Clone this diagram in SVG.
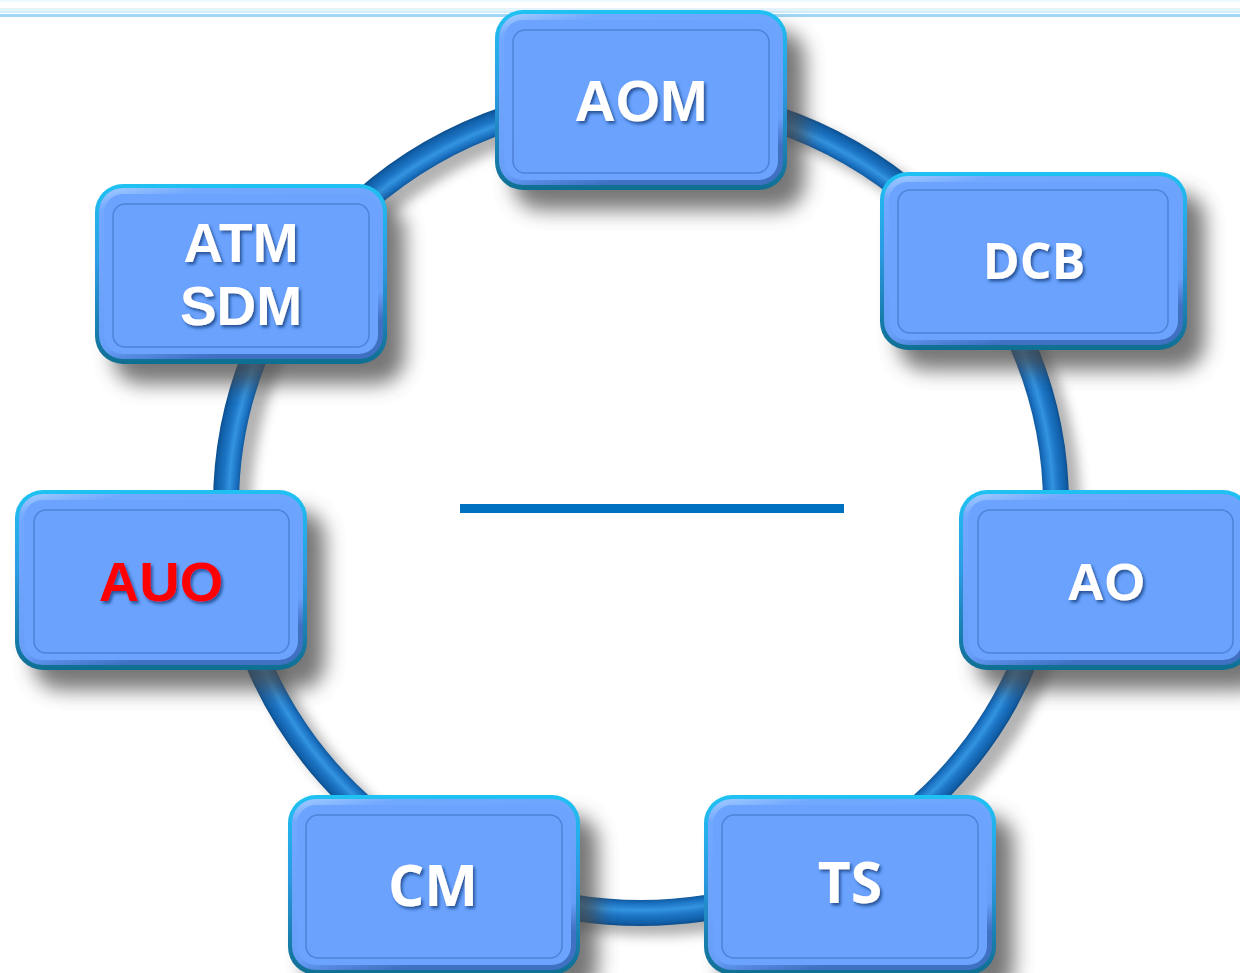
<svg xmlns="http://www.w3.org/2000/svg" width="1240" height="973" viewBox="0 0 1240 973">
  <defs>
    <linearGradient id="rimGrad" x1="0" y1="0" x2="0" y2="1">
      <stop offset="0" stop-color="#1ec2f2"/>
      <stop offset="0.45" stop-color="#2b9ae2"/>
      <stop offset="1" stop-color="#0f6f92"/>
    </linearGradient>
    <linearGradient id="bevelGrad" x1="0" y1="0" x2="0.35" y2="1">
      <stop offset="0" stop-color="#a4ccff"/>
      <stop offset="0.12" stop-color="#72a8fe"/>
      <stop offset="0.85" stop-color="#679ef8"/>
      <stop offset="1" stop-color="#3f70c2"/>
    </linearGradient>
    <radialGradient id="tubeGrad" cx="0.5" cy="0.5" r="0.52">
      <stop offset="0.925" stop-color="#0a4a88"/>
      <stop offset="0.94" stop-color="#1b72c2"/>
      <stop offset="0.955" stop-color="#3394e0"/>
      <stop offset="0.968" stop-color="#1d76c6"/>
      <stop offset="0.985" stop-color="#115fa8"/>
      <stop offset="0.995" stop-color="#0a4680"/>
    </radialGradient>
    <filter id="nodeShadow" x="-20%" y="-20%" width="150%" height="160%">
      <feGaussianBlur stdDeviation="10"/>
    </filter>
    <filter id="ringShadow" x="-10%" y="-10%" width="120%" height="120%">
      <feGaussianBlur stdDeviation="6"/>
    </filter>
    <filter id="textShadow" x="-10%" y="-20%" width="130%" height="150%">
      <feDropShadow dx="2" dy="2.5" stdDeviation="1.5" flood-color="#163a78" flood-opacity="0.75"/>
    </filter>
  </defs>
  <style>
    .shadow { fill: #4a4a4a; opacity: 0.75; filter: url(#nodeShadow); }
    .rim { fill: url(#rimGrad); }
    .bevel { fill: url(#bevelGrad); }
    .face { fill: #6ba3fe; }
    .inner { fill: #6aa2fd; stroke: #4f82d8; stroke-width: 1.5; }
    .lbl { fill: #ffffff; font-weight: bold; text-anchor: middle; filter: url(#textShadow); }
    .arial { font-family: "Liberation Sans", Arial, sans-serif; }
    .segoe { font-family: "Open Sans", "Noto Sans", sans-serif; }
    .red { fill: #ff0000; }
  </style>

  <rect width="1240" height="973" fill="#ffffff"/>

  <!-- top band -->
  <g id="top-band">
    <rect x="0" y="0" width="1240" height="2" fill="#eef8ff"/>
    <rect x="0" y="8" width="1240" height="3" fill="#e4f3fc"/>
    <rect x="0" y="11" width="1240" height="2" fill="#d2ecfa"/>
    <rect x="0" y="14" width="1240" height="3" fill="#9fd8f7"/>
  </g>

  <!-- connectors: ring and centre bar -->
  <g id="connectors">
    <ellipse cx="653" cy="515" rx="415" ry="408" fill="none" stroke="#555" stroke-width="26" opacity="0.45" filter="url(#ringShadow)"/>
    <ellipse cx="641" cy="505" rx="415" ry="408" fill="none" stroke="url(#tubeGrad)" stroke-width="26"/>
    <rect x="460" y="504" width="384" height="9" fill="#0070c0"/>
  </g>

  <g id="node-aom" transform="translate(495,10)">
    <rect class="shadow" x="18" y="20" width="292" height="180" rx="28"/>
    <rect class="rim" width="292" height="180" rx="28"/>
    <rect class="bevel" x="4" y="4" width="284" height="171" rx="24"/>
    <rect class="face" x="9" y="10" width="274" height="160" rx="19"/>
    <rect class="inner" x="18" y="20" width="256" height="143" rx="12"/>
    <text class="lbl arial" x="146" y="111" font-size="57">AOM</text>
  </g>

  <g id="node-atm-sdm" transform="translate(95,184)">
    <rect class="shadow" x="18" y="20" width="292" height="180" rx="28"/>
    <rect class="rim" width="292" height="180" rx="28"/>
    <rect class="bevel" x="4" y="4" width="284" height="171" rx="24"/>
    <rect class="face" x="9" y="10" width="274" height="160" rx="19"/>
    <rect class="inner" x="18" y="20" width="256" height="143" rx="12"/>
    <text class="lbl arial" x="146" y="78" font-size="55">ATM</text>
    <text class="lbl arial" x="146" y="141" font-size="55">SDM</text>
  </g>

  <g id="node-dcb" transform="translate(880,172)">
    <rect class="shadow" x="18" y="20" width="307" height="178" rx="28"/>
    <rect class="rim" width="307" height="178" rx="28"/>
    <rect class="bevel" x="4" y="4" width="299" height="169" rx="24"/>
    <rect class="face" x="9" y="10" width="289" height="158" rx="19"/>
    <rect class="inner" x="18" y="18" width="270" height="143" rx="12"/>
    <text class="lbl segoe" x="154" y="107" font-size="50">DCB</text>
  </g>

  <g id="node-auo" transform="translate(15,490)">
    <rect class="shadow" x="18" y="20" width="292" height="180" rx="28"/>
    <rect class="rim" width="292" height="180" rx="28"/>
    <rect class="bevel" x="4" y="4" width="284" height="171" rx="24"/>
    <rect class="face" x="9" y="10" width="274" height="160" rx="19"/>
    <rect class="inner" x="19" y="20" width="255" height="143" rx="12"/>
    <text class="lbl arial red" x="146" y="111" font-size="56">AUO</text>
  </g>

  <g id="node-ao" transform="translate(959,490)">
    <rect class="shadow" x="18" y="20" width="292" height="180" rx="28"/>
    <rect class="rim" width="292" height="180" rx="28"/>
    <rect class="bevel" x="4" y="4" width="284" height="171" rx="24"/>
    <rect class="face" x="9" y="10" width="274" height="160" rx="19"/>
    <rect class="inner" x="19" y="20" width="255" height="143" rx="12"/>
    <text class="lbl arial" x="147" y="110" font-size="52">AO</text>
  </g>

  <g id="node-cm" transform="translate(288,795)">
    <rect class="shadow" x="18" y="20" width="292" height="180" rx="28"/>
    <rect class="rim" width="292" height="180" rx="28"/>
    <rect class="bevel" x="4" y="4" width="284" height="171" rx="24"/>
    <rect class="face" x="9" y="10" width="274" height="160" rx="19"/>
    <rect class="inner" x="18" y="20" width="256" height="143" rx="12"/>
    <text class="lbl segoe" x="145" y="111" font-size="57">CM</text>
  </g>

  <g id="node-ts" transform="translate(704,795)">
    <rect class="shadow" x="18" y="20" width="292" height="180" rx="28"/>
    <rect class="rim" width="292" height="180" rx="28"/>
    <rect class="bevel" x="4" y="4" width="284" height="171" rx="24"/>
    <rect class="face" x="9" y="10" width="274" height="160" rx="19"/>
    <rect class="inner" x="18" y="20" width="256" height="143" rx="12"/>
    <text class="lbl segoe" x="146" y="108" font-size="57">TS</text>
  </g>
</svg>
